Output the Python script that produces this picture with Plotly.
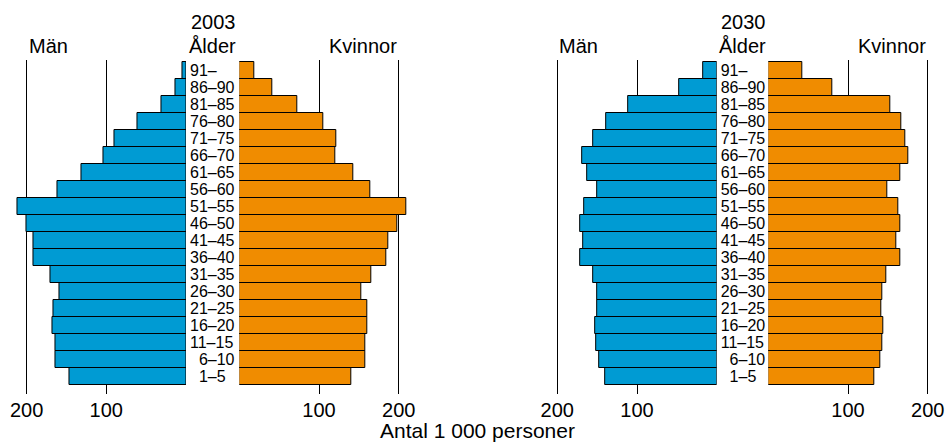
import plotly.graph_objects as go

# Age groups, bottom to top
age_groups = ["\u20071–5", "\u20076–10", "11–15", "16–20", "21–25", "26–30", "31–35",
              "36–40", "41–45", "46–50", "51–55", "56–60", "61–65", "66–70",
              "71–75", "76–80", "81–85", "86–90", "91–"]

# Thousands of persons (same order as age_groups)
men_2003 = [146, 164, 164, 168, 166, 159, 170, 191, 191, 200, 211, 161, 131, 103, 90, 61, 30.5, 13.4, 4.2]
women_2003 = [141, 158, 158, 161, 160, 152.5, 165, 185, 187, 198, 209, 164, 143, 121, 122, 106, 72.7, 41.6, 19]
men_2030 = [140, 147, 151, 152, 150, 150, 155, 171, 167, 171, 165.7, 150.6, 163, 169, 155.6, 138.5, 111, 47.3, 17.6]
women_2030 = [133, 140, 143.5, 144, 142, 143, 148, 166, 161, 166, 163, 149, 166, 176, 172, 167, 153, 80.8, 43]

years = ["2003", "2030"]
tick_vals = [100, 200]
tick_text = ["100", "200"]

BLUE = "#009BD3"
ORANGE = "#F08C00"
FONT = "Liberation Sans, Arial, sans-serif"
W, H = 947, 443
SCALE = 0.797  # px per unit
R = 224

zeros = {"m03": 186.0, "w03": 239.3, "m30": 716.7, "w30": 768.3}

def dom_left(z):
    return [(z - R * SCALE) / W, z / W]

def dom_right(z):
    return [z / W, (z + R * SCALE) / W]

ydom = [(H - 394) / H, (H - 60) / H]
yrange = [-1.01, 18.62]

fig = go.Figure()
series = [(men_2003, BLUE, "x", "y"), (women_2003, ORANGE, "x2", "y2"),
          (men_2030, BLUE, "x3", "y3"), (women_2030, ORANGE, "x4", "y4")]
for vals, col, xa, ya in series:
    fig.add_trace(go.Bar(x=vals, y=age_groups, orientation="h", xaxis=xa, yaxis=ya,
                         marker=dict(color=col, line=dict(color="black", width=1)),
                         showlegend=False, hoverinfo="x+y"))

xcommon = dict(tickvals=tick_vals, ticktext=tick_text, showgrid=True, gridcolor="black",
               gridwidth=1, zeroline=False, showline=False, ticks="", ticklabelstandoff=2,
               tickfont=dict(family=FONT, size=20, color="black"), fixedrange=True)

fig.update_layout(
    width=W, height=H, margin=dict(l=0, r=0, t=0, b=0, autoexpand=False),
    paper_bgcolor="white", plot_bgcolor="white", bargap=0,
    font=dict(family=FONT, color="black"),
    xaxis=dict(domain=dom_left(zeros["m03"]), range=[R, 0], anchor="y", **xcommon),
    xaxis2=dict(domain=dom_right(zeros["w03"]), range=[0, R], anchor="y2", **xcommon),
    xaxis3=dict(domain=dom_left(zeros["m30"]), range=[R, 0], anchor="y3", **xcommon),
    xaxis4=dict(domain=dom_right(zeros["w30"]), range=[0, R], anchor="y4", **xcommon),
)
for i, ax in enumerate(["yaxis", "yaxis2", "yaxis3", "yaxis4"]):
    xa = ["x", "x2", "x3", "x4"][i]
    is_men = i in (0, 2)
    fig.layout[ax] = dict(domain=ydom, range=yrange, anchor=xa, type="category",
                          categoryorder="array", categoryarray=age_groups,
                          tickmode="array", tickvals=age_groups, ticktext=age_groups,
                          side="right" if is_men else "left", ticklabelstandoff=3,
                          showticklabels=is_men, ticks="", showgrid=False,
                          zeroline=False, showline=False, fixedrange=True,
                          tickfont=dict(family=FONT, size=16, color="black"))

def ann(text, x, y, xanchor="center", size=20):
    fig.add_annotation(text=text, x=x / W, y=1 - y / H, xref="paper", yref="paper",
                       xanchor=xanchor, yanchor="middle", showarrow=False,
                       font=dict(family=FONT, size=size, color="black"))

for year, mz, wz in [(years[0], zeros["m03"], zeros["w03"]), (years[1], zeros["m30"], zeros["w30"])]:
    mid = (mz + wz) / 2
    ann(year, mid + 1, 22)
    ann("Ålder", mid, 46)
    ann("Män", mz - 200 * SCALE, 46, xanchor="left")
    ann("Kvinnor", wz + 200 * SCALE, 46, xanchor="right")

ann("Antal 1 000 personer", 477.5, 430, size=21)

fig.write_html("out.html", config={"displayModeBar": False},
               post_script="document.body.style.margin='0px';document.body.style.padding='0px';")
